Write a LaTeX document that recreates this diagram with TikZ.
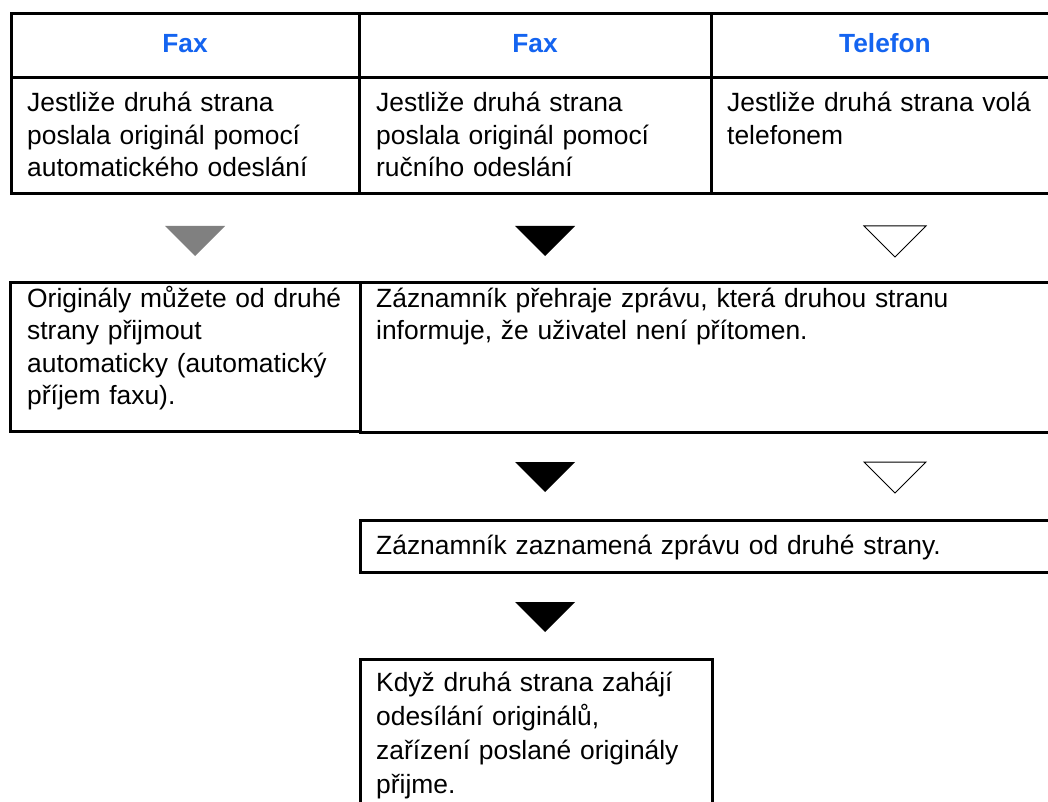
\documentclass[tikz,border=0pt]{standalone}
\usepackage{fontspec}
\setmainfont{Liberation Sans}
\definecolor{hdrblue}{RGB}{20,100,240}
\definecolor{arrgray}{RGB}{128,128,128}
\begin{document}
\begin{tikzpicture}[x=1pt,y=-1pt,
  cell/.style={draw,line width=3pt,inner sep=0pt,outer sep=0pt,anchor=north west},
  hdr/.style={font=\fontsize{26.3}{32.5}\selectfont\bfseries,text=hdrblue,anchor=base,inner sep=0pt},
  body/.style={font=\fontsize{26.4}{32.5}\selectfont,text width=660pt,align=left,anchor=base west,inner sep=0pt},
  solidtri/.style={fill=black},
  graytri/.style={fill=arrgray},
  opentri/.style={draw=black,line width=1pt,line join=miter}
]
\useasboundingbox (0,0) rectangle (1048,802);
\clip (0,0) rectangle (1048,802);
% table header row
\node[cell,minimum width=348pt,minimum height=64pt] (h1) at (11,14) {};
\node[cell,minimum width=352pt,minimum height=64pt] (h2) at (359,14) {};
\node[cell,minimum width=360pt,minimum height=64pt] (h3) at (711,14) {};
% table body row
\node[cell,minimum width=348pt,minimum height=116pt] (b1) at (11,78) {};
\node[cell,minimum width=352pt,minimum height=116pt] (b2) at (359,78) {};
\node[cell,minimum width=360pt,minimum height=116pt] (b3) at (711,78) {};
\node[hdr] (t1) at (185,53) {Fax};
\node[hdr] (t2) at (535,53) {Fax};
\node[hdr] (t3) at (885,53) {Telefon};
\node[body] (bt1) at (27,112) {Jestliže druhá strana\\poslala originál pomocí\\automatického odeslání};
\node[body] (bt2) at (376,112) {Jestliže druhá strana\\poslala originál pomocí\\ručního odeslání};
\node[body] (bt3) at (727,112) {Jestliže druhá strana volá\\telefonem};
% row 2 triangles
\fill[graytri] (165,226) -- (225,226) -- (195,256) -- cycle;
\fill[solidtri] (515,226) -- (575,226) -- (545,256) -- cycle;
\draw[opentri] (864,226) -- (926,226) -- (895,257) -- cycle;
% row 3 boxes
\node[cell,minimum width=350pt,minimum height=149pt] (c1) at (10,282) {};
\node[cell,minimum width=700pt,minimum height=150pt] (c2) at (360,282) {};
\node[body] (ct1) at (27,307) {Originály můžete od druhé\\strany přijmout\\automaticky (automatický\\příjem faxu).};
\node[body] (ct2) at (376,307) {Záznamník přehraje zprávu, která druhou stranu\\informuje, že uživatel není přítomen.};
% row 4 triangles
\fill[solidtri] (515,462) -- (575,462) -- (545,492) -- cycle;
\draw[opentri] (864,462) -- (926,462) -- (895,493) -- cycle;
% row 5 box
\node[cell,minimum width=700pt,minimum height=52pt] (d1) at (360,520) {};
\node[body] (dt1) at (376,554) {Záznamník zaznamená zprávu od druhé strany.};
% row 6 triangle
\fill[solidtri] (515,602) -- (575,602) -- (545,632) -- cycle;
% row 7 box
\node[cell,minimum width=352pt,minimum height=200pt] (e1) at (360,659) {};
\node[body,font=\fontsize{26.4}{34}\selectfont] (et1) at (376,691) {Když druhá strana zahájí\\odesílání originálů,\\zařízení poslané originály\\přijme.};
\end{tikzpicture}
\end{document}
